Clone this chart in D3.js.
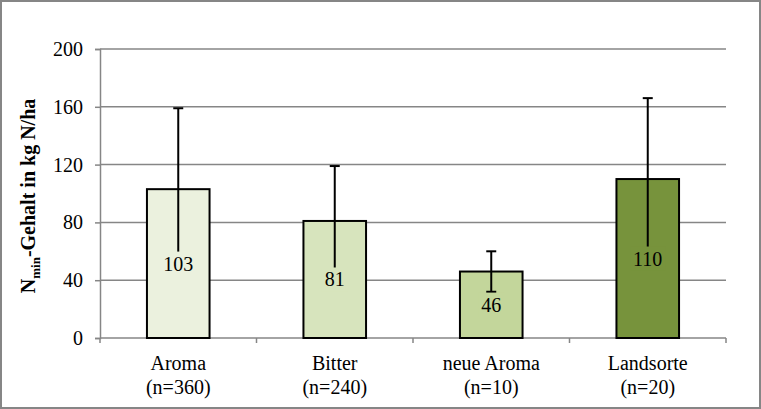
<!DOCTYPE html>
<html><head><meta charset="utf-8">
<script src="https://cdn.jsdelivr.net/npm/d3@7"></script>
</head><body style="margin:0;background:#fff">
<svg id="c" width="761" height="409" style="display:block" font-family="Liberation Serif"></svg>
<script>
const categories = ["Aroma", "Bitter", "neue Aroma", "Landsorte"];
const sampleSizes = ["(n=360)", "(n=240)", "(n=10)", "(n=20)"];
const values = [103, 81, 46, 110];
const errors = [56, 38, 14, 56];
const colors = ["#ebf1de", "#d7e4bd", "#c3d69b", "#77933c"];
const yTicks = [0, 40, 80, 120, 160, 200];

const FONT = "Liberation Serif";
const svg = d3.select("#c");
const W = 761, H = 409;
const m = {left: 100, right: 35, top: 49, bottom: 71};
const x = d3.scaleBand().domain(categories).range([m.left, W - m.right]).paddingInner(0.6).paddingOuter(0.3);
const xb = d3.scaleBand().domain(categories).range([m.left, W - m.right]);
const y = d3.scaleLinear().domain([0, 200]).range([H - m.bottom, m.top]);
const grid = "#868686";

svg.append("rect").attr("x", 1).attr("y", 1).attr("width", W - 2).attr("height", H - 2)
  .attr("fill", "#fff").attr("stroke", grid).attr("stroke-width", 2);

// gridlines
svg.append("g").selectAll("line").data(yTicks.filter(d => d > 0)).join("line")
  .attr("x1", m.left).attr("x2", W - m.right).attr("y1", d => y(d)).attr("y2", d => y(d))
  .attr("stroke", grid).attr("stroke-width", 1.5);

// y axis
const ya = svg.append("g").attr("transform", `translate(${m.left},0)`)
  .call(d3.axisLeft(y).tickValues(yTicks).tickSize(5).tickPadding(12));
ya.attr("font-family", FONT).attr("font-size", 20);
ya.select(".domain").attr("stroke", grid).attr("stroke-width", 1.5);
ya.selectAll(".tick line").attr("stroke", grid).attr("stroke-width", 1.5);
ya.selectAll(".tick text").attr("fill", "#000").attr("font-family", FONT).attr("font-size", 20);

// x axis
const xa = svg.append("g").attr("transform", `translate(0,${y(0)})`);
xa.append("line").attr("x1", m.left).attr("x2", W - m.right).attr("stroke", grid).attr("stroke-width", 1.5);
const bounds = categories.map(c => xb(c)).concat([xb(categories[categories.length - 1]) + xb.bandwidth()]);
xa.selectAll("line.t").data(bounds).join("line").attr("class", "t")
  .attr("x1", d => d).attr("x2", d => d).attr("y1", 0).attr("y2", 5)
  .attr("stroke", grid).attr("stroke-width", 1.5);
const lab = svg.append("g").selectAll("text").data(categories).join("text")
  .attr("x", d => xb(d) + xb.bandwidth() / 2).attr("text-anchor", "middle")
  .attr("font-family", FONT).attr("font-size", 20).attr("fill", "#000");
lab.append("tspan").attr("x", d => xb(d) + xb.bandwidth() / 2).attr("y", 370).text(d => d);
lab.append("tspan").attr("x", d => xb(d) + xb.bandwidth() / 2).attr("y", 394).text((d, i) => sampleSizes[i]);

// bars
svg.append("g").selectAll("rect").data(categories).join("rect")
  .attr("x", d => x(d)).attr("width", x.bandwidth())
  .attr("y", (d, i) => y(values[i])).attr("height", (d, i) => y(0) - y(values[i]))
  .attr("fill", (d, i) => colors[i]).attr("stroke", "#000").attr("stroke-width", 2);

// error bars
const eb = svg.append("g").attr("stroke", "#000").attr("stroke-width", 2);
categories.forEach((c, i) => {
  const cx = x(c) + x.bandwidth() / 2;
  const hi = y(values[i] + errors[i]), lo = y(values[i] - errors[i]);
  eb.append("line").attr("x1", cx).attr("x2", cx).attr("y1", hi).attr("y2", lo);
  eb.append("line").attr("x1", cx - 5).attr("x2", cx + 5).attr("y1", hi).attr("y2", hi);
  eb.append("line").attr("x1", cx - 5).attr("x2", cx + 5).attr("y1", lo).attr("y2", lo);
});

// value labels with bar-coloured box
const vl = svg.append("g");
categories.forEach((c, i) => {
  const cx = x(c) + x.bandwidth() / 2;
  const cy = (y(values[i]) + y(0)) / 2;
  const t = vl.append("text").attr("x", cx).attr("y", cy).attr("dy", "0.35em")
    .attr("text-anchor", "middle").attr("font-family", FONT).attr("font-size", 20)
    .attr("fill", "#000").text(values[i]);
  const bb = t.node().getBBox();
  vl.insert("rect", "text").attr("x", bb.x - 3).attr("width", bb.width + 6)
    .attr("y", cy - 12).attr("height", 24).attr("fill", colors[i]);
});

// y title
const yt = svg.append("text").attr("transform", "translate(35,196) rotate(-90)")
  .attr("text-anchor", "middle").attr("font-family", FONT).attr("font-size", 20)
  .attr("font-weight", "bold").attr("fill", "#000");
yt.append("tspan").text("N");
yt.append("tspan").attr("font-size", 13).attr("dy", 5).text("min");
yt.append("tspan").attr("dy", -5).text("-Gehalt in kg N/ha");
</script>
</body></html>
